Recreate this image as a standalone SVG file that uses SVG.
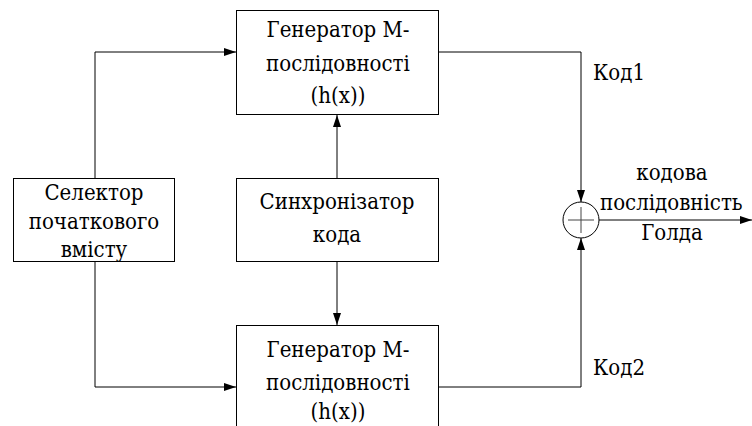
<svg xmlns="http://www.w3.org/2000/svg" width="752" height="426" viewBox="0 0 752 426">
<defs>
<marker id="arr" markerWidth="12" markerHeight="8" refX="12" refY="4" orient="auto" markerUnits="userSpaceOnUse">
<path d="M0,0 L12,4 L0,8 Z" fill="#000"/>
</marker>
<style>
.box{fill:#fff;stroke:#000;stroke-width:1}
.c{text-anchor:middle}
.ln{fill:none;stroke:#000;stroke-width:1}
</style>
</defs>
<rect width="752" height="426" fill="#fff"/>
<g id="connectors">
<path class="ln" d="M95,178 V52 H236" marker-end="url(#arr)"/>
<path class="ln" d="M95,262 V387 H236" marker-end="url(#arr)"/>
<path class="ln" d="M337,178 V115" marker-end="url(#arr)"/>
<path class="ln" d="M337,262 V325" marker-end="url(#arr)"/>
<path class="ln" d="M439,52 H581 V202" marker-end="url(#arr)"/>
<path class="ln" d="M439,387 H581 V238" marker-end="url(#arr)"/>
<path class="ln" d="M599,220 H752" marker-end="url(#arr)"/>
</g>
<g font-family="'DejaVu Serif Condensed', 'DejaVu Serif', serif" font-stretch="condensed" font-size="22" fill="#000">
<g id="gen1">
<rect class="box" x="236.5" y="10.5" width="202" height="104"/>
<text class="c" x="338" y="37">Генератор М-</text>
<text class="c" x="338" y="71">послідовності</text>
<text class="c" x="338" y="103">(h(x))</text>
</g>
<g id="selector">
<rect class="box" x="13.5" y="178.5" width="161" height="83"/>
<text class="c" x="94" y="200">Селектор</text>
<text class="c" x="94" y="229">початкового</text>
<text class="c" x="94" y="257">вмісту</text>
</g>
<g id="sync">
<rect class="box" x="236.5" y="178.5" width="202" height="83"/>
<text class="c" x="337" y="209">Синхронізатор</text>
<text class="c" x="337" y="242">кода</text>
</g>
<g id="gen2">
<rect class="box" x="236.5" y="325.5" width="202" height="110"/>
<text class="c" x="338" y="357">Генератор М-</text>
<text class="c" x="338" y="390">послідовності</text>
<text class="c" x="338" y="419">(h(x))</text>
</g>
<g id="xor">
<circle cx="581" cy="220" r="18" fill="#fff" stroke="#000" stroke-width="1"/>
<path d="M568,220 H594 M581,207 V233" stroke="#444" stroke-width="1" fill="none"/>
</g>
<g id="labels">
<text x="593" y="80">Код1</text>
<text x="593" y="375">Код2</text>
<text class="c" x="672" y="180">кодова</text>
<text x="600" y="210">послідовність</text>
<text class="c" x="672" y="240">Голда</text>
</g>
</g>
</svg>
